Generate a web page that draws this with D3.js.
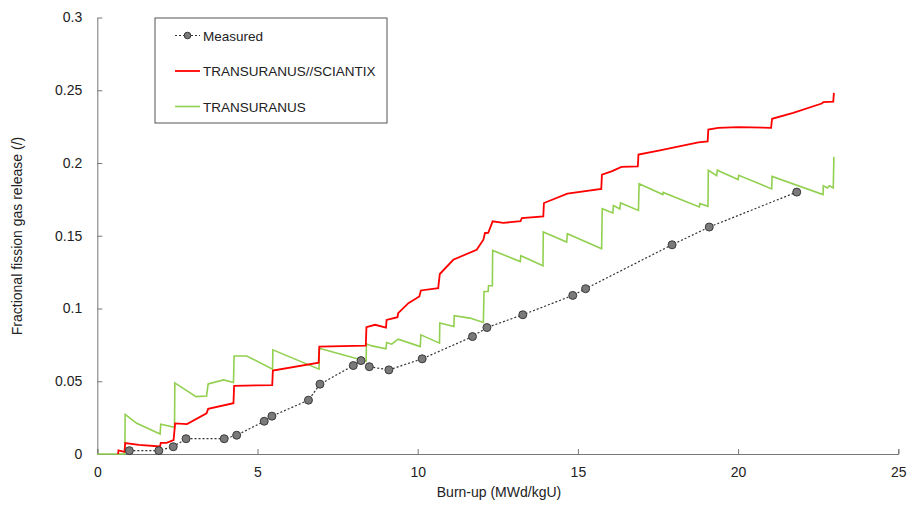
<!DOCTYPE html>
<meta charset="utf-8">
<style>
    body { margin: 0; background: #fff; }
    text { font-family: "Liberation Sans", Arial, sans-serif; fill: #222; }
    .axis path, .axis line { stroke: #777; }
    .axis text { font-size: 14px; }
</style>
<svg width="909" height="510"></svg>
<script src="https://cdn.jsdelivr.net/npm/d3@7"></script>
<script>

    // measured points: burn-up (MWd/kgU), FGR (/)
    var measuredX = [1.0, 1.92, 2.37, 2.77, 3.96, 4.35, 5.21, 5.45, 6.59, 6.95, 7.99, 8.23, 8.49, 9.1,
                     10.14, 11.71, 12.16, 13.28, 14.84, 15.24, 17.94, 19.1, 21.83];
    var measuredY = [0.0023, 0.0023, 0.005, 0.0105, 0.0105, 0.0129, 0.0225, 0.026, 0.037, 0.048, 0.0608, 0.0642, 0.060, 0.0578,
                     0.0654, 0.0807, 0.0869, 0.0957, 0.109, 0.1136, 0.1438, 0.156, 0.180];

    // TRANSURANUS//SCIANTIX
    var sciantix = [
        [0.65, 0], [0.66, 0.0025], [0.85, 0.0015], [0.87, 0.0075], [1.3, 0.0062], [1.96, 0.0052], [1.98, 0.0076],
        [2.16, 0.0076], [2.38, 0.0096], [2.43, 0.021], [2.8, 0.0206], [3.41, 0.028], [3.46, 0.031], [4.25, 0.0349],
        [4.27, 0.0468], [5.46, 0.0474], [5.48, 0.0573], [6.91, 0.0628], [6.93, 0.0738], [8.38, 0.0745], [8.4, 0.0872],
        [8.67, 0.0888], [9.01, 0.0869], [9.03, 0.0922], [9.37, 0.094], [9.39, 0.0968], [9.71, 0.1037], [10.05, 0.1083],
        [10.1, 0.1124], [10.64, 0.114], [10.69, 0.1237], [11.11, 0.1335], [11.84, 0.1404], [12.05, 0.1473],
        [12.1, 0.1519], [12.2, 0.152], [12.34, 0.1599], [12.67, 0.1588], [13.21, 0.16], [13.25, 0.1622], [13.92, 0.1633],
        [13.94, 0.1725], [14.67, 0.1789], [15.73, 0.1822], [15.75, 0.192], [16.05, 0.1943], [16.36, 0.1973],
        [16.87, 0.1977], [16.89, 0.2058], [17.56, 0.2087], [18.76, 0.2142], [19.05, 0.2149], [19.07, 0.223],
        [19.38, 0.2242], [20.0, 0.2246], [21.03, 0.2242], [21.06, 0.2304], [21.72, 0.2345], [22.61, 0.2409],
        [22.66, 0.2418], [22.97, 0.2422], [22.99, 0.2482]
    ];

    // TRANSURANUS
    var transuranus = [
        [0, 0], [0.86, 0], [0.87, 0.0273], [1.23, 0.0211], [1.96, 0.0138], [1.98, 0.0204], [2.41, 0.0184],
        [2.42, 0.0489], [3.08, 0.0394], [3.41, 0.0399], [3.46, 0.0482], [3.94, 0.0509], [4.25, 0.0491],
        [4.27, 0.0674], [4.66, 0.0674], [5.47, 0.0583], [5.48, 0.0716], [6.92, 0.0583], [6.93, 0.0727],
        [8.39, 0.0638], [8.4, 0.0757], [8.57, 0.0743], [9.01, 0.0723], [9.03, 0.0766], [9.19, 0.0755],
        [9.39, 0.0789], [10.08, 0.0738], [10.1, 0.0819], [10.68, 0.0762], [10.69, 0.09], [11.13, 0.0876],
        [11.14, 0.095], [11.63, 0.0934], [12.05, 0.0904], [12.07, 0.1117], [12.2, 0.1117], [12.21, 0.1156],
        [12.33, 0.1156], [12.34, 0.1399], [13.2, 0.1323], [13.22, 0.1363], [13.91, 0.1294], [13.92, 0.1526],
        [14.65, 0.1457], [14.67, 0.1514], [15.74, 0.1411], [15.76, 0.1686], [16.09, 0.1657], [16.11, 0.1707],
        [16.31, 0.1684], [16.33, 0.1725], [16.89, 0.1674], [16.91, 0.1858], [17.65, 0.1783], [17.66, 0.1798],
        [18.79, 0.1698], [18.81, 0.1721], [19.06, 0.1702], [19.07, 0.195], [19.33, 0.1913], [19.35, 0.195],
        [20.0, 0.1886], [20.02, 0.1915], [21.05, 0.1822], [21.06, 0.1908], [22.65, 0.1783], [22.66, 0.1844],
        [22.79, 0.1829], [22.85, 0.1844], [22.97, 0.1829], [22.99, 0.2042]
    ];

    var xTicks = [0, 5, 10, 15, 20, 25];
    var yTicks = [0, 0.05, 0.1, 0.15, 0.2, 0.25, 0.3];
    var yTickLabels = ["0", "0.05", "0.1", "0.15", "0.2", "0.25", "0.3"];
    var legendLabels = ["Measured", "TRANSURANUS//SCIANTIX", "TRANSURANUS"];

    var svg = d3.select("svg");

    var x = d3.scaleLinear().domain([0, 25]).range([97.3, 898.3]);
    var y = d3.scaleLinear().domain([0, 0.3]).range([454, 17.5]);

    // axes, ticks pointing inward
    svg.append("g")
        .attr("class", "axis")
        .attr("transform", "translate(0,454)")
        .call(d3.axisBottom(x).tickValues(xTicks).tickSizeInner(-5).tickSizeOuter(-5).tickPadding(13));

    svg.append("g")
        .attr("class", "axis")
        .attr("transform", "translate(97.3,0)")
        .call(d3.axisLeft(y).tickValues(yTicks).tickSizeInner(-5).tickSizeOuter(0).tickPadding(15)
            .tickFormat(function(d, i) { return yTickLabels[i]; }));

    svg.append("text")
        .attr("x", 499).attr("y", 497)
        .attr("text-anchor", "middle")
        .style("font-size", "14px")
        .text("Burn-up (MWd/kgU)");

    svg.append("text")
        .attr("transform", "translate(22,236) rotate(-90)")
        .attr("text-anchor", "middle")
        .style("font-size", "14px")
        .text("Fractional fission gas release (/)");

    var line = d3.line()
        .x(function(d) { return x(d[0]); })
        .y(function(d) { return y(d[1]); });

    svg.append("path")
        .datum(transuranus)
        .attr("fill", "none")
        .attr("stroke", "#92d050")
        .attr("stroke-width", 1.6)
        .attr("d", line);

    svg.append("path")
        .datum(sciantix)
        .attr("fill", "none")
        .attr("stroke", "#ff0000")
        .attr("stroke-width", 1.8)
        .attr("d", line);

    var measured = measuredX.map(function(v, i) { return [v, measuredY[i]]; });

    svg.append("path")
        .datum(measured)
        .attr("fill", "none")
        .attr("stroke", "#333")
        .attr("stroke-width", 1.2)
        .attr("stroke-dasharray", "2,2")
        .attr("d", line);

    svg.selectAll(".pt")
        .data(measured)
        .enter().append("circle")
        .attr("class", "pt")
        .attr("cx", function(d) { return x(d[0]); })
        .attr("cy", function(d) { return y(d[1]); })
        .attr("r", 4)
        .attr("fill", "#7a7a7a")
        .attr("stroke", "#3a3a3a")
        .attr("stroke-width", 1);

    // legend
    var lg = svg.append("g");
    lg.append("rect")
        .attr("x", 155).attr("y", 18).attr("width", 232).attr("height", 105)
        .attr("fill", "#fff").attr("stroke", "#555").attr("stroke-width", 1);

    var rows = [35.5, 71, 106.5];
    lg.append("line").attr("x1", 175).attr("x2", 200).attr("y1", rows[0]).attr("y2", rows[0])
        .attr("stroke", "#333").attr("stroke-width", 1.2).attr("stroke-dasharray", "2,2");
    lg.append("circle").attr("cx", 187.5).attr("cy", rows[0]).attr("r", 3.3)
        .attr("fill", "#7a7a7a").attr("stroke", "#3a3a3a");
    lg.append("line").attr("x1", 175).attr("x2", 200).attr("y1", rows[1]).attr("y2", rows[1])
        .attr("stroke", "#ff0000").attr("stroke-width", 1.8);
    lg.append("line").attr("x1", 175).attr("x2", 200).attr("y1", rows[2]).attr("y2", rows[2])
        .attr("stroke", "#92d050").attr("stroke-width", 1.6);

    lg.selectAll(".lt")
        .data(legendLabels)
        .enter().append("text")
        .attr("class", "lt")
        .attr("x", 203)
        .attr("y", function(d, i) { return rows[i] + 5; })
        .style("font-size", "13.5px")
        .text(function(d) { return d; });

</script>
